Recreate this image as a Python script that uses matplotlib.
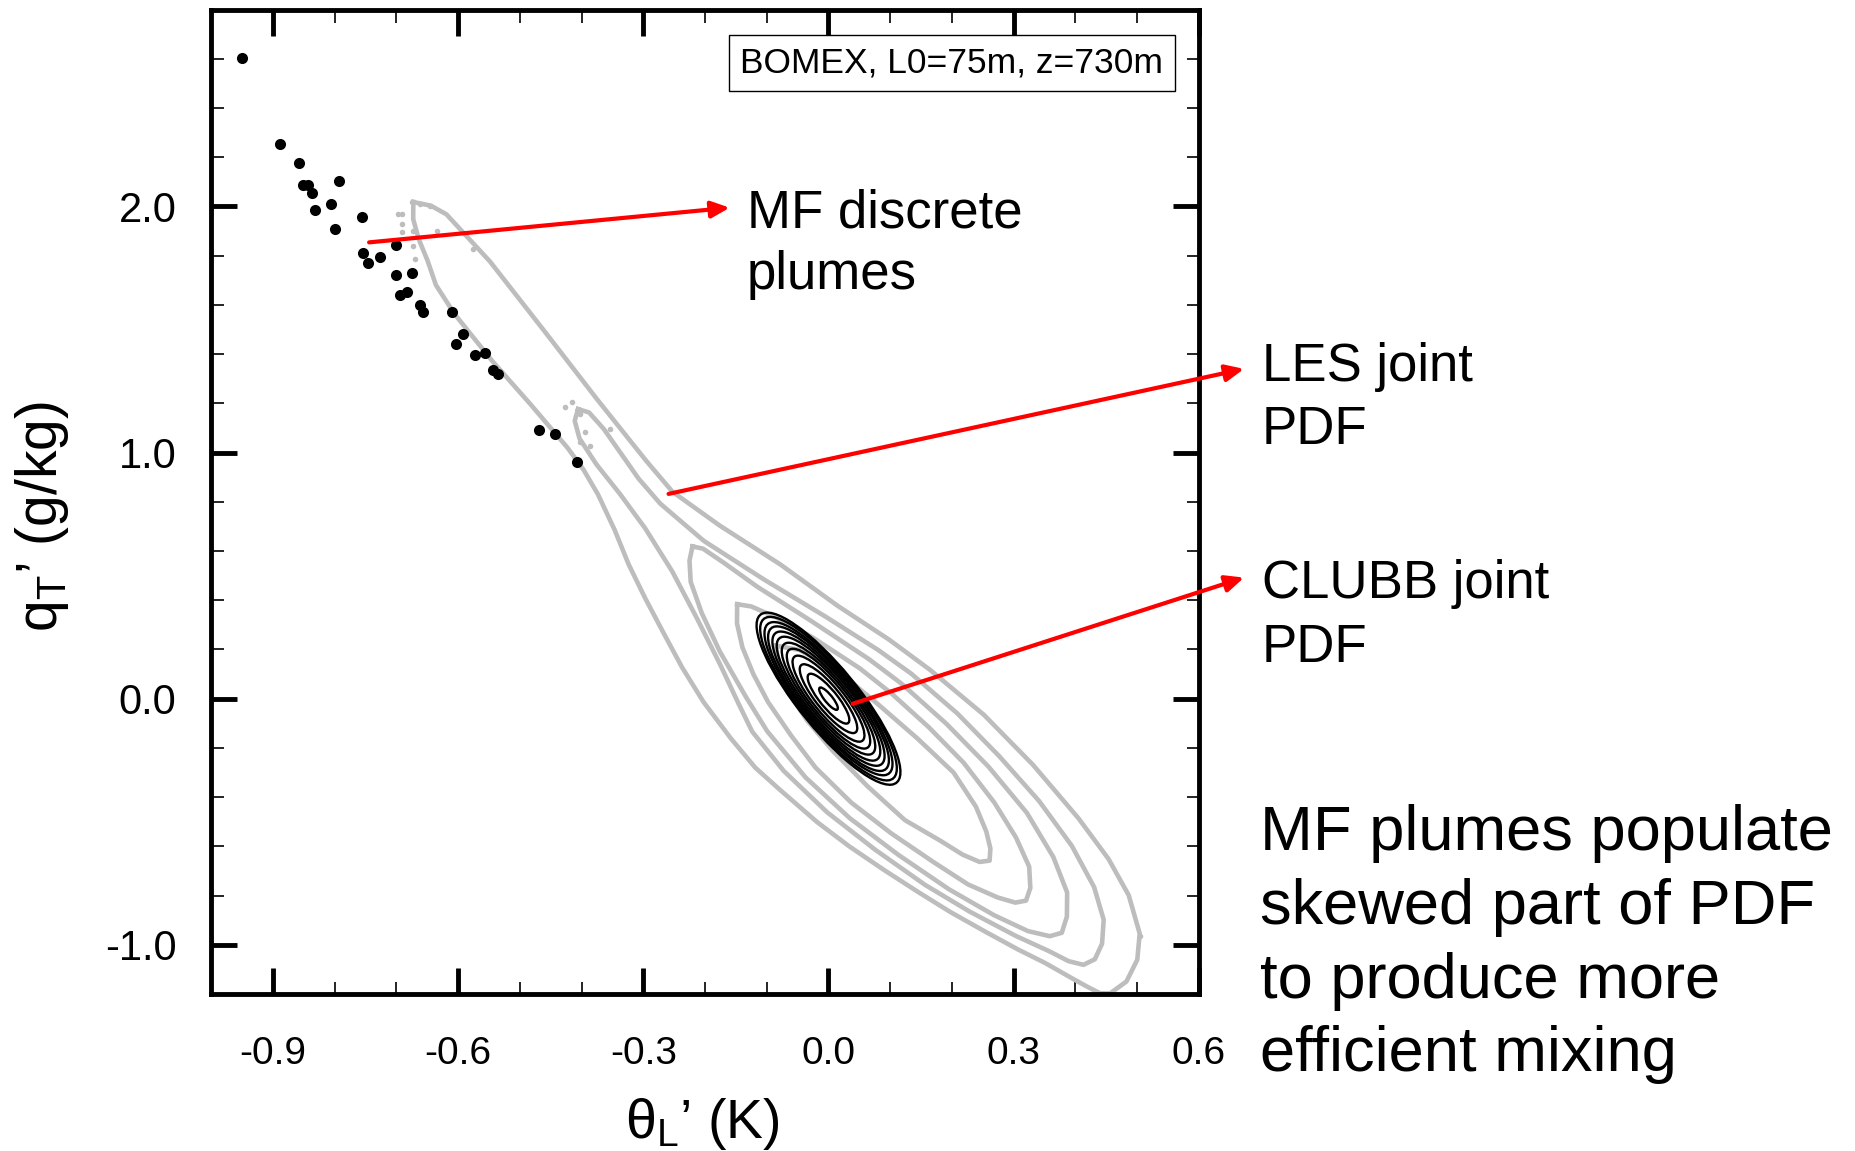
import numpy as np
import matplotlib
matplotlib.use("Agg")
import matplotlib.pyplot as plt
from matplotlib.patches import Ellipse
from matplotlib.ticker import MultipleLocator, FormatStrFormatter

plt.rcParams['font.family'] = ['Liberation Sans', 'DejaVu Sans']
plt.rcParams['mathtext.fontset'] = 'custom'
plt.rcParams['mathtext.rm'] = 'Liberation Sans'
plt.rcParams['mathtext.it'] = 'Liberation Sans'
plt.rcParams['mathtext.default'] = 'rm'
plt.rcParams['axes.unicode_minus'] = False

# ---------------- data ----------------
# MF discrete plumes (theta_l', q_t')
mf_thl = [-0.950, -0.888, -0.858, -0.851, -0.843, -0.837, -0.793, -0.806, -0.832, -0.756,
          -0.799, -0.701, -0.754, -0.746, -0.726, -0.700, -0.675, -0.694, -0.682, -0.662,
          -0.656, -0.609, -0.592, -0.604, -0.572, -0.557, -0.543, -0.535, -0.469, -0.443, -0.408]
mf_qt = [2.602, 2.252, 2.175, 2.089, 2.089, 2.056, 2.103, 2.008, 1.984, 1.957,
         1.907, 1.843, 1.812, 1.771, 1.796, 1.721, 1.728, 1.642, 1.652, 1.599,
         1.572, 1.570, 1.480, 1.443, 1.398, 1.405, 1.335, 1.321, 1.091, 1.077, 0.963]

# LES joint PDF contours, outermost first (closed outlines)
les1_thl = [-0.6724, -0.6437, -0.6187, -0.5483, -0.4589, -0.3751, -0.2958, -0.2527, -0.1764, -0.0784,
            0.0150, 0.0981, 0.1642, 0.2517, 0.3312, 0.4049, 0.4535, 0.4862, 0.5040, 0.5001,
            0.4825, 0.4560, 0.4399, 0.4171, 0.3920, 0.3510, 0.3065, 0.2529, 0.1970, 0.1445,
            0.0887, 0.0340, -0.0183, -0.0797, -0.1184, -0.1580, -0.2022, -0.2372, -0.2676, -0.2968,
            -0.3238, -0.3462, -0.3732, -0.3968, -0.4229, -0.4829, -0.5442, -0.6054, -0.6358, -0.6492,
            -0.6638, -0.6726]
les1_qt = [2.0180, 2.0029, 1.9678, 1.7764, 1.4896, 1.2174, 0.9682, 0.8407, 0.7037, 0.5460,
           0.3770, 0.2399, 0.1175, -0.0657, -0.2689, -0.4863, -0.6513, -0.7987, -0.9544, -1.0606,
           -1.1493, -1.1975, -1.1971, -1.1678, -1.1327, -1.0742, -1.0185, -0.9453, -0.8663, -0.7845,
           -0.6940, -0.6007, -0.5017, -0.3679, -0.2807, -0.1619, -0.0142, 0.1275, 0.2691, 0.4078,
           0.5464, 0.6849, 0.8293, 0.9305, 1.0202, 1.1970, 1.3710, 1.5622, 1.6808, 1.7789,
           1.8684, 1.9490]

les2_thl = [-0.4056, -0.3879, -0.3641, -0.3358, -0.3075, -0.2724, -0.2019, -0.1039, -0.0036, 0.0808,
            0.1343, 0.2082, 0.2763, 0.3410, 0.3941, 0.4302, 0.4457, 0.4430, 0.4313, 0.4129,
            0.3888, 0.3569, 0.3032, 0.2279, 0.1561, 0.0753, -0.0021, -0.0726, -0.1235, -0.1460,
            -0.1752, -0.2134, -0.2528, -0.2969, -0.3376, -0.3761, -0.4032, -0.4110]
les2_qt = [1.1764, 1.1631, 1.0964, 0.9951, 0.8938, 0.7923, 0.6411, 0.4834, 0.3315, 0.1972,
           0.1010, -0.0589, -0.2331, -0.4157, -0.5981, -0.7657, -0.8983, -0.9960, -1.0589, -1.0815,
           -1.0665, -1.0255, -0.9638, -0.8642, -0.7561, -0.6132, -0.4618, -0.2934, -0.1340, -0.0185,
           0.1374, 0.3281, 0.5159, 0.6923, 0.8313, 0.9529, 1.0571, 1.1291]

les3_thl = [-0.2203, -0.2032, -0.1690, -0.1155, -0.0311, 0.0657, 0.1181, 0.1908, 0.2589, 0.3213,
            0.3641, 0.3865, 0.3861, 0.3778, 0.3583, 0.3228, 0.2680, 0.1950, 0.1130, 0.0345,
            -0.0371, -0.0994, -0.1344, -0.1761, -0.2053, -0.2232, -0.2251]
les3_qt = [0.6186, 0.6095, 0.5512, 0.4550, 0.3207, 0.1602, 0.0612, -0.1016, -0.2757, -0.4641,
           -0.6434, -0.7876, -0.8854, -0.9513, -0.9651, -0.9441, -0.8796, -0.7743, -0.6343, -0.4857,
           -0.3201, -0.1318, 0.0100, 0.1921, 0.3480, 0.4749, 0.5612]

les4_thl = [-0.1479, -0.1250, -0.0850, -0.0257, 0.0507, 0.1019, 0.1621, 0.2189, 0.2687, 0.3037,
            0.3250, 0.3269, 0.3199, 0.3026, 0.2740, 0.2261, 0.1703, 0.1019, 0.0370, -0.0209,
            -0.0605, -0.0978, -0.1215, -0.1394, -0.1482]
les4_qt = [0.3839, 0.3747, 0.3306, 0.2487, 0.1232, 0.0213, -0.1153, -0.2604, -0.4226, -0.5643,
           -0.6826, -0.7689, -0.8205, -0.8287, -0.8078, -0.7549, -0.6644, -0.5478, -0.4226, -0.2803,
           -0.1500, -0.0140, 0.0987, 0.2084, 0.3063]

les5_thl = [-0.0855, -0.0465, -0.0021, 0.0321, 0.0822, 0.1436, 0.2026, 0.2388, 0.2556, 0.2622,
            0.2609, 0.2448, 0.2174, 0.1820, 0.1239, 0.0637, 0.0069, -0.0350, -0.0622, -0.0790]
les5_qt = [0.2157, 0.1975, 0.1360, 0.0777, -0.0270, -0.1608, -0.3002, -0.4391, -0.5401, -0.6092,
           -0.6581, -0.6634, -0.6340, -0.5785, -0.4937, -0.3571, -0.2120, -0.0874, 0.0168, 0.1178]

# isolated LES points near the tails
les_pts_thl = [-0.698, -0.690, -0.675, -0.662, -0.646, -0.690, -0.691, -0.673, -0.634, -0.576,
               -0.673, -0.670, -0.415, -0.427, -0.403, -0.395, -0.403, -0.386, -0.354, 0.505]
les_pts_qt = [1.970, 1.970, 2.018, 2.010, 2.002, 1.929, 1.896, 1.900, 1.900, 1.827,
              1.839, 1.786, 1.205, 1.185, 1.157, 1.083, 1.043, 1.026, 1.096, -0.965]

# CLUBB joint PDF: outer ring half-extents, correlation, ring sizes
clubb_sd_thl = 0.1165
clubb_sd_qt = 0.3497
clubb_corr = -0.852
clubb_rings = [0.13, 0.29, 0.40, 0.50, 0.58, 0.65, 0.72, 0.78, 0.84, 0.89, 0.95, 1.0]

# annotation arrows: (start, tip) in axis units
arrows = [((-0.744, 1.854), (-0.160, 1.995)),
          ((-0.259, 0.832), (0.673, 1.340)),
          ((0.039, -0.021), (0.673, 0.492))]

# ---------------- figure ----------------
fig = plt.figure(figsize=(18.56, 11.51), dpi=100)
ax = fig.add_axes([0.1137, 0.1364, 0.5323, 0.8553])

grey = '#bdbdbd'
les = [(les1_thl, les1_qt), (les2_thl, les2_qt), (les3_thl, les3_qt),
       (les4_thl, les4_qt), (les5_thl, les5_qt)]
for xs, ys in les:
    ax.plot(xs + xs[:1], ys + ys[:1], color=grey, lw=3.3, solid_joinstyle='round', zorder=2)
ax.plot(les_pts_thl, les_pts_qt, 'o', color=grey, ms=4, mec='none', zorder=2)

# CLUBB ellipses
cov = np.array([[clubb_sd_thl**2, clubb_corr*clubb_sd_thl*clubb_sd_qt],
                [clubb_corr*clubb_sd_thl*clubb_sd_qt, clubb_sd_qt**2]])
vals, vecs = np.linalg.eigh(cov)
ang = np.degrees(np.arctan2(vecs[1, 1], vecs[0, 1]))
for k in clubb_rings:
    e = Ellipse((0.0, 0.0), 2*np.sqrt(vals[1])*k, 2*np.sqrt(vals[0])*k, angle=ang,
                fill=False, ec='black', lw=1.7, zorder=3)
    ax.add_patch(e)

ax.plot(mf_thl, mf_qt, 'o', color='black', ms=8, mec='none', zorder=4)

for start, tip in arrows:
    ax.annotate('', xy=tip, xytext=start, annotation_clip=False,
                arrowprops=dict(arrowstyle='-|>,head_length=0.55,head_width=0.25',
                                color='red', lw=3, mutation_scale=20,
                                shrinkA=0, shrinkB=0), zorder=5)

ax.set_xlim(-1.0, 0.6)
ax.set_ylim(-1.2, 2.8)
ax.xaxis.set_major_locator(MultipleLocator(0.3))
ax.xaxis.set_minor_locator(MultipleLocator(0.1))
ax.yaxis.set_major_locator(MultipleLocator(1.0))
ax.yaxis.set_minor_locator(MultipleLocator(0.2))
ax.xaxis.set_major_formatter(FormatStrFormatter('%.1f'))
ax.yaxis.set_major_formatter(FormatStrFormatter('%.1f'))
ax.tick_params(which='both', direction='in', top=True, right=True, color='black')
ax.tick_params(which='major', length=19, width=3.5)
ax.tick_params(which='minor', length=9, width=1.2)
ax.tick_params(axis='x', labelsize=28, pad=30)
ax.tick_params(axis='y', labelsize=30, pad=25)
for s in ax.spines.values():
    s.set_linewidth(3.5)

ax.set_xlabel("θ$_L$’ (K)", fontsize=40)
ax.xaxis.set_label_coords(0.497, -0.104)
ax.set_ylabel("q$_T$’ (g/kg)", fontsize=41)
ax.yaxis.set_label_coords(-0.142, 0.485)

ax.text(0.7498, 0.9458, 'BOMEX, L0=75m, z=730m', transform=ax.transAxes,
        ha='center', va='center', fontsize=25.5, zorder=6,
        bbox=dict(boxstyle='square,pad=0.32', fc='white', ec='black', lw=1.0))


def put_lines(x, y0, lines, dy, size):
    for i, line in enumerate(lines):
        fig.text(x, y0 - i*dy, line, ha='left', va='baseline', fontsize=size)


put_lines(0.4025, 0.8023, ['MF discrete', 'plumes'], 0.0534, 38)
put_lines(0.6800, 0.6692, ['LES joint', 'PDF'], 0.0550, 38)
put_lines(0.6800, 0.4802, ['CLUBB joint', 'PDF'], 0.0551, 38)
put_lines(0.6789, 0.2615, ['MF plumes populate', 'skewed part of PDF',
                           'to produce more', 'efficient mixing'], 0.0641, 45.5)

fig.savefig('out.png', dpi=100)
